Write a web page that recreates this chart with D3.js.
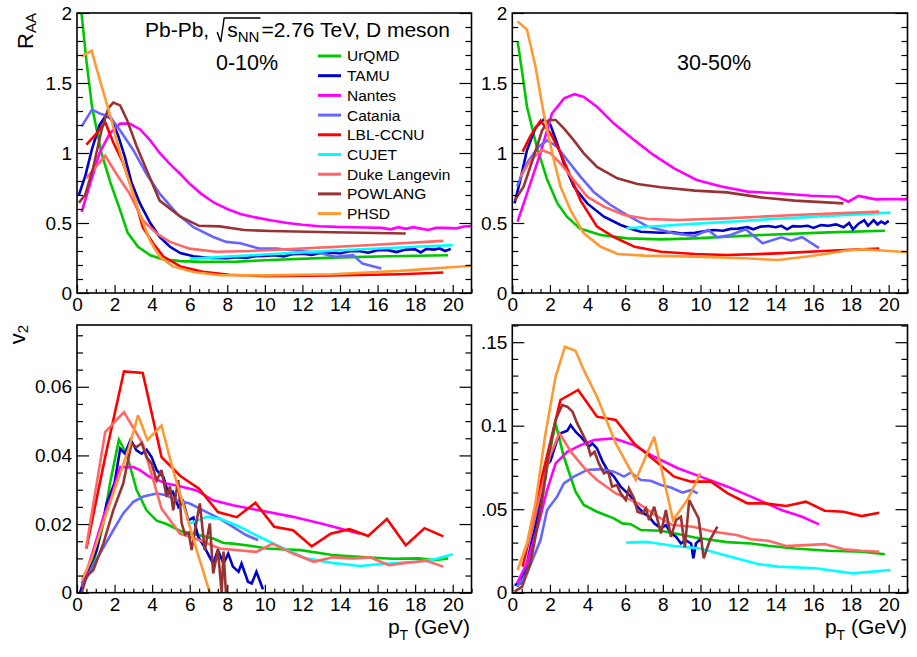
<!DOCTYPE html>
<html>
<head>
<meta charset="utf-8">
<script src="https://cdn.jsdelivr.net/npm/d3@7"></script>
<style>
  body { margin: 0; background: #fff; }
  svg text { font-family: "Liberation Sans", Arial, Helvetica, sans-serif; fill: #000; }
</style>
</head>
<body>
<svg id="chart" width="917" height="657"></svg>
<script>
// ---------------- DATA ----------------
const models = ["UrQMD", "TAMU", "Nantes", "Catania", "LBL-CCNU", "CUJET", "Duke Langevin", "POWLANG", "PHSD"];
const modelColors = ["#00c800", "#0000cc", "#ff00ff", "#6666ff", "#ff0000", "#00ffff", "#ff6666", "#993333", "#ff9933"];

const xTicks = [0, 2, 4, 6, 8, 10, 12, 14, 16, 18, 20];
const raaTicks = [0, 0.5, 1, 1.5, 2];
const raaTickLabels = ["0", "0.5", "1", "1.5", "2"];
const v2CentralTicks = [0, 0.02, 0.04, 0.06];
const v2CentralTickLabels = ["0", "0.02", "0.04", "0.06"];
const v2PeriphTicks = [0, 0.05, 0.1, 0.15];
const v2PeriphTickLabels = ["0", ".05", "0.1", ".15"];

// R_AA, 0-10%  [pT, RAA]
const raa010_UrQMD = [[0.2,2.05],[0.5,1.66],[0.8,1.33],[1.3,1.0],[1.8,0.78],[2.3,0.59],[2.7,0.43],[3.25,0.33],[3.9,0.27],[4.6,0.24],[5.5,0.228],[6.7,0.222],[8.5,0.224],[10.3,0.236],[13.6,0.253],[16.5,0.263],[19.75,0.27]];
const raa010_TAMU = [[0.1,0.70],[0.45,0.84],[0.8,1.03],[1.2,1.2],[1.55,1.27],[1.85,1.24],[2.2,1.12],[2.55,0.97],[2.9,0.79],[3.35,0.64],[3.9,0.50],[4.4,0.40],[4.95,0.33],[5.5,0.285],[6.2,0.262],[7.1,0.25],[8.0,0.248],[8.5,0.255],[9.0,0.25],[9.5,0.262],[10.0,0.265],[10.5,0.27],[11.0,0.262],[11.5,0.278],[12.0,0.28],[12.5,0.272],[13.0,0.288],[13.5,0.29],[14.0,0.282],[14.5,0.298],[15.0,0.3],[15.5,0.288],[16.0,0.305],[16.5,0.308],[17.0,0.292],[17.5,0.31],[18.0,0.312],[18.3,0.29],[18.6,0.315],[19.0,0.31],[19.3,0.318],[19.6,0.3],[19.9,0.315]];
const raa010_Nantes = [[0.25,0.58],[0.7,0.78],[1.2,1.0],[1.75,1.14],[2.3,1.21],[2.8,1.21],[3.35,1.17],[3.9,1.09],[4.4,1.0],[4.95,0.92],[5.5,0.85],[6.0,0.78],[6.6,0.71],[7.3,0.645],[8.0,0.6],[8.7,0.565],[9.5,0.54],[10.3,0.52],[11.2,0.5],[12.0,0.487],[12.9,0.477],[13.8,0.472],[14.6,0.47],[15.4,0.468],[16.2,0.465],[16.7,0.455],[17.1,0.47],[17.5,0.458],[17.9,0.47],[18.3,0.46],[18.7,0.45],[19.1,0.465],[19.6,0.465],[20.2,0.462],[20.6,0.475],[21,0.478]];
const raa010_Catania = [[0.25,1.19],[0.8,1.31],[1.25,1.28],[1.75,1.26],[2.3,1.16],[3.0,1.02],[3.7,0.85],[4.4,0.71],[5.3,0.57],[6.2,0.47],[7.25,0.40],[7.95,0.365],[8.7,0.355],[9.7,0.318],[10.6,0.318],[11.9,0.30],[12.9,0.285],[13.8,0.258],[14.7,0.27],[15.2,0.21],[16.2,0.175]];
const raa010_LBL = [[0.5,1.06],[1.05,1.14],[1.5,1.22],[1.95,1.07],[2.45,0.93],[3.0,0.71],[3.5,0.47],[4.05,0.355],[4.6,0.26],[5.5,0.19],[6.7,0.152],[8.1,0.13],[10.1,0.12],[13.6,0.125],[17.2,0.134],[19.5,0.146]];
const raa010_CUJET = [[6.0,0.245],[8,0.26],[10,0.275],[12,0.29],[14,0.305],[16,0.318],[18,0.33],[20,0.342]];
const raa010_Duke = [[0.5,0.82],[1.0,0.90],[1.5,0.98],[2.1,0.85],[2.8,0.71],[3.5,0.52],[4.25,0.425],[4.95,0.365],[6.0,0.317],[7.4,0.295],[9.2,0.30],[11.9,0.317],[15.4,0.341],[19.5,0.372]];
const raa010_POWLANG = [[0.1,0.645],[0.43,0.70],[0.87,0.90],[1.3,1.16],[1.67,1.32],[1.93,1.36],[2.3,1.34],[2.65,1.24],[3.17,1.05],[3.7,0.88],[4.4,0.66],[5.5,0.545],[6.5,0.48],[7.6,0.476],[8.9,0.45],[10.3,0.443],[13.6,0.434],[17.5,0.425]];
const raa010_PHSD = [[0.25,1.69],[0.78,1.73],[1.22,1.52],[1.76,1.27],[2.29,1.0],[2.82,0.78],[3.35,0.56],[3.9,0.37],[4.4,0.26],[5.1,0.19],[6.2,0.15],[7.6,0.127],[10.1,0.126],[13.6,0.134],[17.2,0.158],[21,0.195]];

// R_AA, 30-50%
const raa3050_UrQMD = [[0.28,1.80],[0.5,1.6],[0.78,1.33],[1.3,1.045],[1.85,0.81],[2.4,0.64],[2.9,0.545],[3.6,0.46],[4.7,0.414],[6.1,0.39],[7.9,0.383],[9.7,0.39],[13.2,0.414],[16.8,0.433],[19.8,0.445]];
const raa3050_TAMU = [[0.12,0.64],[0.43,0.81],[0.78,1.02],[1.23,1.18],[1.67,1.24],[2.03,1.2],[2.38,1.07],[2.74,0.926],[3.27,0.76],[3.98,0.64],[4.87,0.545],[5.76,0.486],[6.5,0.45],[6.83,0.438],[7.9,0.43],[8.5,0.435],[9.0,0.425],[9.7,0.43],[10.2,0.44],[10.7,0.45],[11.2,0.445],[11.6,0.458],[12.0,0.46],[12.5,0.47],[12.8,0.455],[13.2,0.474],[13.6,0.478],[14.0,0.47],[14.3,0.48],[14.6,0.455],[14.9,0.478],[15.3,0.475],[15.7,0.48],[16.0,0.465],[16.4,0.485],[16.8,0.48],[17.2,0.49],[17.6,0.47],[17.9,0.5],[18.1,0.455],[18.4,0.495],[18.7,0.52],[18.9,0.48],[19.2,0.52],[19.4,0.49],[19.6,0.51],[19.8,0.495],[20.0,0.515]];
const raa3050_Nantes = [[0.28,0.51],[0.78,0.71],[1.5,1.0],[2.1,1.28],[2.75,1.39],[3.3,1.42],[3.8,1.40],[4.5,1.33],[5.4,1.21],[6.5,1.09],[7.5,0.986],[8.6,0.89],[9.8,0.807],[11.1,0.76],[12.5,0.724],[14.1,0.712],[15.9,0.695],[17.3,0.688],[17.85,0.652],[18.4,0.693],[19.3,0.669],[20.3,0.671],[20.9,0.669],[21.1,0.688]];
const raa3050_Catania = [[0.25,0.76],[0.78,0.93],[1.4,1.045],[1.85,1.09],[2.38,1.045],[2.92,0.95],[3.63,0.83],[4.34,0.72],[5.2,0.63],[6.1,0.557],[7.2,0.474],[8.6,0.426],[9.7,0.407],[10.4,0.45],[10.9,0.398],[11.6,0.414],[12.4,0.455],[13.3,0.355],[14.3,0.398],[14.8,0.374],[15.4,0.398],[16.3,0.32]];
const raa3050_LBL = [[0.55,1.01],[0.96,1.12],[1.5,1.23],[2.03,1.14],[2.56,1.0],[3.1,0.83],[3.63,0.66],[4.5,0.474],[5.4,0.40],[6.5,0.33],[7.9,0.295],[9.7,0.279],[11.4,0.271],[14.1,0.283],[16.8,0.302],[19.5,0.317]];
const raa3050_CUJET = [[6.06,0.462],[8,0.48],[10,0.497],[12,0.513],[14,0.53],[16,0.545],[18,0.56],[20.1,0.574]];
const raa3050_Duke = [[0.43,0.83],[0.96,0.95],[1.58,1.02],[2.03,0.998],[2.56,0.926],[3.27,0.807],[3.98,0.688],[4.87,0.617],[5.94,0.557],[7.2,0.529],[8.8,0.521],[11.4,0.533],[15.0,0.557],[19.5,0.581]];
const raa3050_POWLANG = [[0.12,0.66],[0.6,0.76],[1.14,0.974],[1.58,1.16],[1.94,1.236],[2.3,1.236],[2.74,1.176],[3.27,1.09],[3.8,0.998],[4.5,0.90],[5.58,0.819],[6.65,0.779],[7.9,0.755],[9.7,0.731],[11.4,0.719],[13.2,0.683],[15.0,0.66],[17.6,0.64]];
const raa3050_PHSD = [[0.28,1.94],[0.78,1.88],[1.23,1.62],[1.67,1.28],[2.12,1.0],[2.56,0.76],[3.1,0.59],[3.8,0.426],[4.7,0.33],[5.6,0.279],[7.0,0.267],[9.7,0.26],[12.3,0.248],[14.1,0.236],[15.9,0.264],[17.7,0.302],[18.6,0.312],[21.1,0.29]];

// v2, 0-10%  [pT, v2]
const v2010_UrQMD = [[0.25,0.0027],[0.87,0.0085],[1.4,0.020],[1.76,0.032],[2.23,0.0446],[2.64,0.0405],[3.17,0.030],[3.7,0.024],[4.24,0.021],[4.77,0.020],[5.5,0.018],[6.54,0.0167],[7.25,0.0158],[7.8,0.0145],[8.3,0.0143],[9.2,0.0137],[10.1,0.0129],[11.9,0.0124],[13.6,0.011],[15.4,0.0103],[16.8,0.0099],[18.2,0.010],[19.0,0.0095],[19.75,0.010]];
const v2010_TAMU = [[0.16,0],[0.5,0.0056],[1.05,0.0124],[1.58,0.026],[2.0,0.032],[2.3,0.042],[2.55,0.0405],[2.85,0.0446],[3.17,0.0415],[3.44,0.0405],[3.7,0.0417],[3.97,0.0395],[4.24,0.0357],[4.6,0.0337],[4.86,0.0289],[5.1,0.0294],[5.4,0.025],[5.65,0.0266],[5.92,0.0211],[6.2,0.0219],[6.45,0.0163],[6.72,0.0139],[7.0,0.011],[7.25,0.0085],[7.5,0.0124],[7.8,0.0085],[8.05,0.0114],[8.3,0.0076],[8.6,0.0061],[8.76,0.0085],[9.1,0.0032],[9.3,0.0027],[9.55,0.0061],[9.9,0.001]];
const v2010_Nantes = [[0.25,0.0017],[0.87,0.0124],[1.4,0.022],[1.84,0.028],[2.3,0.0366],[3.0,0.0366],[3.35,0.0357],[3.88,0.0337],[4.77,0.0318],[5.48,0.031],[6.37,0.0298],[7.25,0.0269],[8.3,0.0255],[9.7,0.024],[11.5,0.0221],[13.1,0.020],[15.05,0.0172]];
const v2010_Catania = [[0.25,0.0017],[1.22,0.0114],[1.93,0.0182],[2.46,0.0231],[3.0,0.0265],[3.53,0.028],[4.24,0.0289],[4.77,0.0284],[5.3,0.0269],[6.0,0.026],[6.9,0.0235],[7.6,0.0216],[8.3,0.0192],[9.0,0.0168],[9.65,0.0153]];
const v2010_LBL = [[0.5,0.0129],[1.5,0.0395],[2.5,0.0645],[3.5,0.064],[4.5,0.0395],[5.5,0.034],[6.5,0.0303],[7.5,0.0235],[8.5,0.022],[9.5,0.0262],[10.5,0.0192],[11.5,0.0182],[12.5,0.0135],[13.5,0.0172],[14.5,0.0185],[15.5,0.0165],[16.5,0.0215],[17.5,0.0138],[18.5,0.0188],[19.5,0.0164]];
const v2010_CUJET = [[6.0,0.0202],[6.9,0.0221],[7.6,0.0216],[8.67,0.0192],[9.7,0.0163],[11,0.0129],[12.2,0.010],[13.6,0.0087],[15.05,0.0078],[16.5,0.0085],[18.1,0.009],[19,0.0097],[20,0.0112]];
const v2010_Duke = [[0.48,0.0129],[1.5,0.0468],[2.5,0.0526],[3.5,0.0434],[4.5,0.0245],[5.48,0.0172],[6.54,0.0153],[7.6,0.0129],[9.55,0.0119],[10.4,0.0143],[11.5,0.0114],[12.6,0.009],[13.6,0.0103],[14.7,0.010],[15.6,0.0103],[16.6,0.008],[17.5,0.0087],[18.6,0.0093],[19.5,0.0076]];
const v2010_POWLANG = [[0.25,0],[0.5,0.0047],[0.87,0.0066],[1.4,0.0143],[1.93,0.024],[2.46,0.0318],[2.9,0.0434],[3.17,0.0424],[3.44,0.0436],[3.7,0.0395],[3.97,0.0376],[4.24,0.0327],[4.5,0.0357],[4.77,0.0279],[4.95,0.031],[5.12,0.024],[5.39,0.0328],[5.57,0.0202],[5.75,0.017],[5.95,0.0175],[6.1,0.0124],[6.28,0.0182],[6.54,0.026],[6.8,0.0124],[7.07,0.0202],[7.25,0.0056],[7.5,0.0124],[7.7,0],[7.8,0.012],[7.95,-0.002]];
const v2010_PHSD = [[0.25,0.0037],[0.75,0.0095],[1.5,0.022],[2.25,0.034],[2.75,0.042],[3.25,0.0517],[3.75,0.0445],[4.5,0.0487],[5.1,0.036],[5.75,0.024],[6.37,0.0124],[7.07,0]];

// v2, 30-50%
const v23050_UrQMD = [[0.25,0.0036],[0.78,0.0136],[1.5,0.0495],[1.94,0.0814],[2.3,0.1014],[2.74,0.0814],[3.36,0.0605],[3.8,0.0525],[4.5,0.0485],[5.4,0.0445],[5.85,0.0415],[6.3,0.041],[6.83,0.0375],[7.9,0.0371],[8.8,0.0351],[9.7,0.0331],[11.4,0.0303],[12.7,0.0295],[13.6,0.0281],[15,0.0265],[16.8,0.0251],[18.6,0.0245],[19.8,0.023]];
const v23050_TAMU = [[0.12,0.0046],[0.43,0.0056],[0.78,0.0176],[1.32,0.0455],[1.76,0.0754],[2.03,0.079],[2.38,0.0914],[2.56,0.0954],[2.92,0.097],[3.1,0.1004],[3.36,0.0964],[3.72,0.0924],[4.07,0.0874],[4.25,0.0894],[4.5,0.0864],[4.8,0.0784],[5.05,0.0735],[5.4,0.0695],[5.76,0.0635],[6.03,0.0605],[6.3,0.0575],[6.65,0.0515],[7.0,0.0475],[7.27,0.0455],[7.54,0.0415],[7.9,0.0385],[8.16,0.0405],[8.43,0.0355],[8.7,0.0335],[8.96,0.0295],[9.2,0.0315],[9.5,0.0295],[9.62,0.0206],[9.76,0.0295],[9.94,0.0315],[10.1,0.0305]];
const v23050_Nantes = [[0.25,0.0056],[0.78,0.0176],[1.4,0.0415],[1.85,0.0615],[2.3,0.0774],[2.92,0.0844],[3.63,0.0884],[4.34,0.0914],[5.4,0.0924],[6.47,0.0884],[7.54,0.0814],[8.8,0.0745],[10.0,0.0695],[11.45,0.0635],[12.9,0.0565],[14.3,0.0495],[15.4,0.0455],[16.3,0.0409]];
const v23050_Catania = [[0.25,0.0036],[0.78,0.0116],[1.5,0.0315],[1.85,0.0495],[2.38,0.0575],[2.74,0.0655],[3.27,0.0695],[3.98,0.0735],[4.7,0.074],[5.4,0.0725],[5.94,0.0695],[6.3,0.072],[6.83,0.0675],[7.36,0.067],[7.9,0.0645],[8.43,0.063],[9.05,0.0599],[9.5,0.0615],[9.85,0.0595]];
const v23050_LBL = [[0.55,0.0156],[1.05,0.0395],[1.58,0.0695],[2.56,0.1154],[3.5,0.1214],[4.5,0.1054],[5.5,0.1034],[6.47,0.0894],[7.54,0.0794],[8.6,0.0695],[9.5,0.0665],[10.56,0.0665],[11.45,0.0595],[12.5,0.0535],[13.4,0.0535],[14.56,0.0519],[15.6,0.0545],[16.6,0.0491],[17.6,0.0485],[18.56,0.0459],[19.5,0.0479]];
const v23050_CUJET = [[6.06,0.030],[7.1,0.0305],[8.6,0.028],[10.0,0.0265],[11.45,0.022],[13.05,0.0172],[14.1,0.0156],[16.1,0.0146],[18.1,0.0116],[20.1,0.0136]];
const v23050_Duke = [[0.5,0.02],[1.0,0.035],[1.5,0.06],[2.0,0.082],[2.5,0.0954],[3.18,0.0834],[3.8,0.075],[4.5,0.0675],[5.5,0.0595],[6.7,0.0535],[7.6,0.0465],[8.5,0.0405],[9.6,0.0395],[10.7,0.0365],[11.9,0.0345],[12.7,0.032],[13.6,0.0311],[14.56,0.028],[15.6,0.0285],[16.6,0.0291],[17.6,0.026],[18.56,0.0251],[19.5,0.0245]];
const v23050_POWLANG = [[0.12,0.0006],[0.52,0.0036],[0.96,0.0176],[1.5,0.0495],[1.94,0.0834],[2.3,0.1034],[2.65,0.1124],[2.92,0.1114],[3.2,0.1084],[3.45,0.1014],[3.72,0.0954],[3.98,0.0894],[4.16,0.0824],[4.37,0.0844],[4.6,0.0774],[4.87,0.0715],[5.1,0.0725],[5.3,0.0635],[5.56,0.0645],[5.76,0.0595],[6.03,0.0555],[6.2,0.0625],[6.47,0.0565],[6.65,0.0485],[6.9,0.0475],[7.1,0.0505],[7.27,0.0435],[7.54,0.0515],[7.9,0.0355],[8.16,0.0495],[8.43,0.0335],[8.7,0.0435],[8.96,0.0455],[9.17,0.0271],[9.4,0.0555],[9.67,0.0495],[9.9,0.0445],[10.17,0.0206],[10.5,0.0315],[10.9,0.0395]];
const v23050_PHSD = [[0.28,0.0136],[0.78,0.0295],[1.25,0.055],[1.76,0.095],[2.3,0.1293],[2.8,0.1473],[3.36,0.1449],[3.8,0.1333],[4.5,0.1174],[5.5,0.0894],[6.56,0.0675],[7.54,0.0934],[8.54,0.0435],[9.3,0.0555],[10.0,0.0715]];

const raa010 = [raa010_UrQMD, raa010_TAMU, raa010_Nantes, raa010_Catania, raa010_LBL, raa010_CUJET, raa010_Duke, raa010_POWLANG, raa010_PHSD];
const raa3050 = [raa3050_UrQMD, raa3050_TAMU, raa3050_Nantes, raa3050_Catania, raa3050_LBL, raa3050_CUJET, raa3050_Duke, raa3050_POWLANG, raa3050_PHSD];
const v2010 = [v2010_UrQMD, v2010_TAMU, v2010_Nantes, v2010_Catania, v2010_LBL, v2010_CUJET, v2010_Duke, v2010_POWLANG, v2010_PHSD];
const v23050 = [v23050_UrQMD, v23050_TAMU, v23050_Nantes, v23050_Catania, v23050_LBL, v23050_CUJET, v23050_Duke, v23050_POWLANG, v23050_PHSD];

// ---------------- DRAW ----------------
const svg = d3.select("#chart");
const FONT = 19;
const LW = 2.6;

const panels = [
  {id: "tl", series: raa010,  xr: [77, 471.5],    yr: [293, 13],    yd: [0, 2],      ticks: raaTicks,       labels: raaTickLabels,       minor: 0.1},
  {id: "tr", series: raa3050, xr: [512.3, 907.5], yr: [293, 13],    yd: [0, 2],      ticks: raaTicks,       labels: raaTickLabels,       minor: 0.1},
  {id: "bl", series: v2010,   xr: [77, 471.5],    yr: [592.7, 325], yd: [0, 0.078],  ticks: v2CentralTicks, labels: v2CentralTickLabels, minor: 0.005},
  {id: "br", series: v23050,  xr: [512.3, 907.5], yr: [592.7, 325], yd: [0, 0.1603], ticks: v2PeriphTicks,  labels: v2PeriphTickLabels,  minor: 0.01}
];

const defs = svg.append("defs");

function styleAxis(g) {
  g.select(".domain").remove();
  g.selectAll("line").attr("stroke", "#000").attr("stroke-width", 1.2);
  g.selectAll("text").style("font-size", FONT + "px")
    .style("font-family", '"Liberation Sans", Arial, Helvetica, sans-serif').attr("fill", "#000");
}

panels.forEach(p => {
  const x = d3.scaleLinear().domain([0, 21]).range(p.xr);
  const y = d3.scaleLinear().domain(p.yd).range(p.yr);
  const g = svg.append("g");

  defs.append("clipPath").attr("id", "clip-" + p.id)
    .append("rect").attr("x", p.xr[0]).attr("y", p.yr[1])
    .attr("width", p.xr[1] - p.xr[0]).attr("height", p.yr[0] - p.yr[1]);

  // curves
  const line = d3.line().x(d => x(d[0])).y(d => y(d[1]));
  const cg = g.append("g").attr("clip-path", "url(#clip-" + p.id + ")");
  p.series.forEach((s, i) => {
    cg.append("path").datum(s).attr("d", line)
      .attr("fill", "none").attr("stroke", modelColors[i])
      .attr("stroke-width", LW).attr("stroke-linejoin", "miter").attr("stroke-miterlimit", 3);
  });

  // x axis
  const xMinor = d3.range(0, 21.01, 0.5).filter(v => Math.abs(v % 2) > 1e-9);
  g.append("g").attr("transform", `translate(0,${p.yr[0]})`)
    .call(d3.axisBottom(x).tickValues(xMinor).tickSize(-4).tickFormat(""))
    .call(styleAxis);
  g.append("g").attr("transform", `translate(0,${p.yr[0]})`)
    .call(d3.axisBottom(x).tickValues(xTicks).tickSize(-8).tickPadding(5).tickFormat(d3.format("d")))
    .call(styleAxis);

  // y axis
  const yMinor = d3.range(0, p.yd[1] + 1e-9, p.minor).filter(v => !p.ticks.some(t => Math.abs(t - v) < 1e-9));
  g.append("g").attr("transform", `translate(${p.xr[0]},0)`)
    .call(d3.axisLeft(y).tickValues(yMinor).tickSize(-6).tickFormat(""))
    .call(styleAxis);
  g.append("g").attr("transform", `translate(${p.xr[0]},0)`)
    .call(d3.axisLeft(y).tickValues(p.ticks).tickSize(-12).tickPadding(5)
      .tickFormat((d, i) => p.labels[i]))
    .call(styleAxis);
  g.append("g").attr("transform", `translate(${p.xr[1]},0)`)
    .call(d3.axisRight(y).tickValues(yMinor).tickSize(-6).tickFormat(""))
    .call(styleAxis);
  g.append("g").attr("transform", `translate(${p.xr[1]},0)`)
    .call(d3.axisRight(y).tickValues(p.ticks).tickSize(-12).tickFormat(""))
    .call(styleAxis);

  // frame
  g.append("rect").attr("x", p.xr[0]).attr("y", p.yr[1])
    .attr("width", p.xr[1] - p.xr[0]).attr("height", p.yr[0] - p.yr[1])
    .attr("fill", "none").attr("stroke", "#000").attr("stroke-width", 1.6);
});

// ---- axis titles ----
function rotTitle(xp, yp, main, sub) {
  const t = svg.append("text").attr("transform", `translate(${xp},${yp}) rotate(-90)`)
    .attr("text-anchor", "end").style("font-size", "22px");
  t.append("tspan").text(main);
  t.append("tspan").text(sub).style("font-size", "15px").attr("dy", 3);
}
rotTitle(33, 13, "R", "AA");
rotTitle(25, 325, "v", "2");

function ptTitle(xEnd) {
  const t = svg.append("text").attr("x", xEnd).attr("y", 634)
    .attr("text-anchor", "end").style("font-size", "21px");
  t.append("tspan").text("p");
  t.append("tspan").text("T").style("font-size", "14px").attr("dy", 6);
  t.append("tspan").text("\u00a0(GeV)").attr("dy", -6);
}
ptTitle(470);
ptTitle(907);

// ---- header text ----
const HF = "21px";
const t1 = svg.append("text").attr("x", 145).attr("y", 37).style("font-size", HF).text("Pb-Pb,");
const w1 = t1.node().getComputedTextLength();
const rx = 145 + w1 + 8;
const t2 = svg.append("text").attr("x", rx + 10).attr("y", 37).style("font-size", HF);
t2.append("tspan").text("s");
t2.append("tspan").text("NN").style("font-size", "15px").attr("dy", 5);
const w2 = t2.node().getComputedTextLength();
const rEnd = rx + 10 + w2 + 1;
svg.append("path")
  .attr("d", `M${rx},${32} L${rx + 3.5},${42} L${rx + 7},${18} L${rEnd},${18}`)
  .attr("fill", "none").attr("stroke", "#000").attr("stroke-width", 1.4);
svg.append("text").attr("x", rEnd + 1).attr("y", 37).style("font-size", HF).text("=2.76 TeV, D meson");

svg.append("text").attr("x", 216).attr("y", 70).style("font-size", "21.5px").text("0-10%");
svg.append("text").attr("x", 677).attr("y", 70).style("font-size", "21.5px").text("30-50%");

// ---- legend ----
const leg = svg.append("g");
models.forEach((m, i) => {
  const yy = 56 + i * 19.7;
  leg.append("line").attr("x1", 318).attr("x2", 341).attr("y1", yy).attr("y2", yy)
    .attr("stroke", modelColors[i]).attr("stroke-width", LW + 0.4);
  leg.append("text").attr("x", 347).attr("y", yy).attr("dy", "0.35em")
    .style("font-size", "15.5px").text(m);
});
</script>
</body>
</html>
